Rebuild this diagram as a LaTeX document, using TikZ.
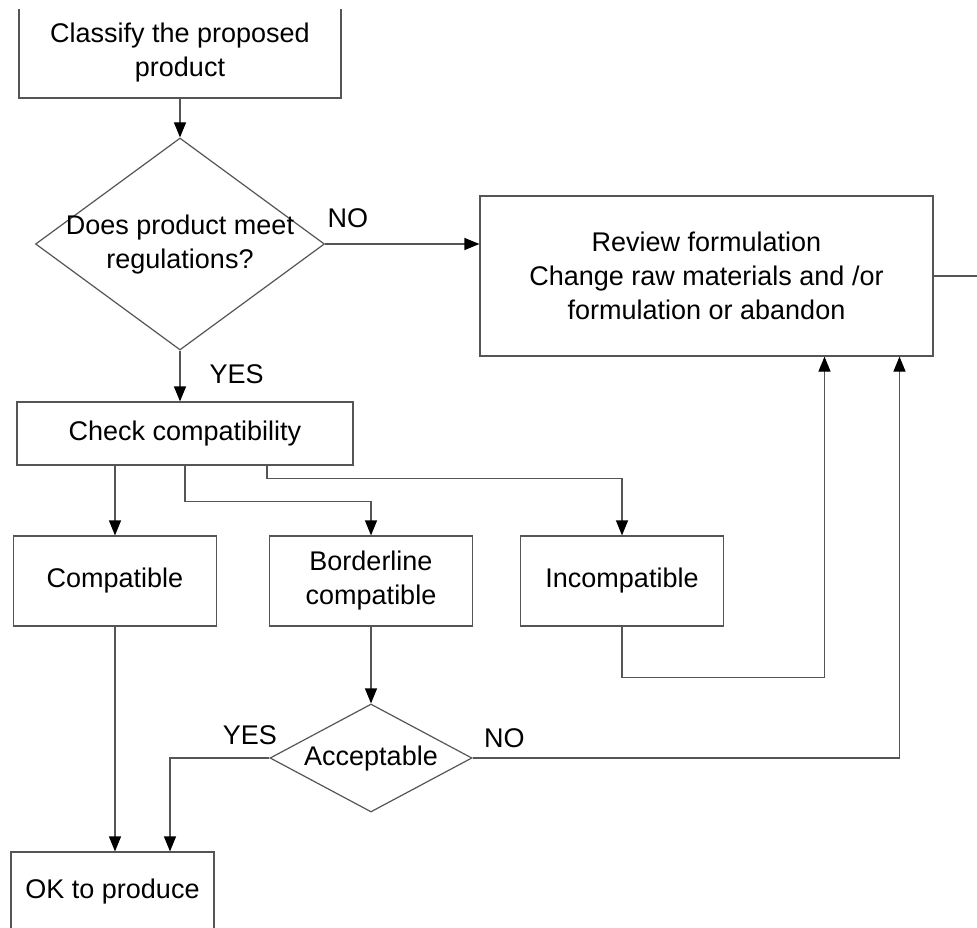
\documentclass[tikz,border=0pt]{standalone}
\usepackage{fontspec}
\setmainfont{Liberation Sans}
\usepackage{tikz}
\usetikzlibrary{shapes.geometric,arrows.meta}
\definecolor{lineColor}{RGB}{85,85,85}
\tikzstyle{chart} = [x = 1pt, y = -1pt, font=\fontsize{27}{34}\selectfont]
\tikzstyle{boxStyle} = [draw=lineColor, line width=1.2pt, fill=white, inner sep=0pt, align=center]
\tikzstyle{decisionStyle} = [diamond, draw=lineColor, line width=1.2pt, fill=white, inner sep=0pt, text height=0pt, text depth=0pt]
\tikzstyle{flowLine} = [draw=lineColor, line width=1.2pt]
\tikzstyle{flowArrow} = [flowLine, -{Triangle[width=12pt, length=15pt, color=black]}]
\tikzstyle{answerText} = [inner sep=0pt, text=black]
\newcommand{\decisionText}[1]{\makebox[0pt]{\raisebox{-.25em}{\begin{tabular}{@{}c@{}}#1\end{tabular}}}}

\begin{document}
\begin{tikzpicture}[chart]
  \useasboundingbox (0,0) rectangle (977,928);
  \clip (0,10) rectangle (977,928);

  \node [boxStyle, minimum width=322pt, minimum height=91pt] (classify) at (180,52.5) {Classify the proposed\\product};
  \node [decisionStyle, minimum width=289pt, minimum height=212pt] (regs) at (180,244) {\decisionText{Does product meet\\regulations?}};
  \node [boxStyle, minimum width=453pt, minimum height=160pt] (review) at (706.5,276) {Review formulation\\Change raw materials and /or\\formulation or abandon};
  \node [boxStyle, minimum width=336pt, minimum height=63pt] (check) at (185,433.5) {Check compatibility};
  \node [boxStyle, minimum width=203pt, minimum height=90pt] (compat) at (115,581) {Compatible};
  \node [boxStyle, minimum width=203pt, minimum height=90pt] (border) at (371,581) {Borderline\\compatible};
  \node [boxStyle, minimum width=203pt, minimum height=90pt] (incompat) at (622,581) {Incompatible};
  \node [decisionStyle, minimum width=202pt, minimum height=108pt] (accept) at (371,758) {\decisionText{Acceptable}};
  \node [boxStyle, minimum width=203pt, minimum height=80pt] (ok) at (112.5,892) {OK to produce};
  \coordinate (exit) at (995,276);

  \draw [flowArrow] (classify.south) -- (regs.north);
  \draw [flowArrow] (regs.east) -- node [answerText, pos=0, anchor=base west, xshift=2pt, yshift=16pt] {NO} (regs.east -| review.west);
  \draw [flowLine] (review.east) -- (exit);
  \draw [flowArrow] (regs.south) -- node [answerText, pos=0, anchor=base west, xshift=29pt, yshift=-33pt] {YES} (regs.south |- check.north);
  \draw [flowArrow] (compat.north |- check.south) -- (compat.north);
  \draw [flowArrow] (check.south) -- ++(0,36) -| (border.north);
  \draw [flowArrow] ([xshift=82pt]check.south) -- ++(0,13) -| (incompat.north);
  \draw [flowArrow] (incompat.south) -- ++(0,51) -| ([xshift=118pt]review.south);
  \draw [flowArrow] (border.south) -- (accept.north);
  \draw [flowArrow] (accept.west) -| node [answerText, pos=0, anchor=base east, xshift=8pt, yshift=14pt] {YES} ([xshift=57.5pt]ok.north);
  \draw [flowArrow] (accept.east) -| node [answerText, pos=0, anchor=base west, xshift=11pt, yshift=11pt] {NO} ([xshift=193pt]review.south);
  \draw [flowArrow] (compat.south) -- (compat.south |- ok.north);
\end{tikzpicture}
\end{document}
